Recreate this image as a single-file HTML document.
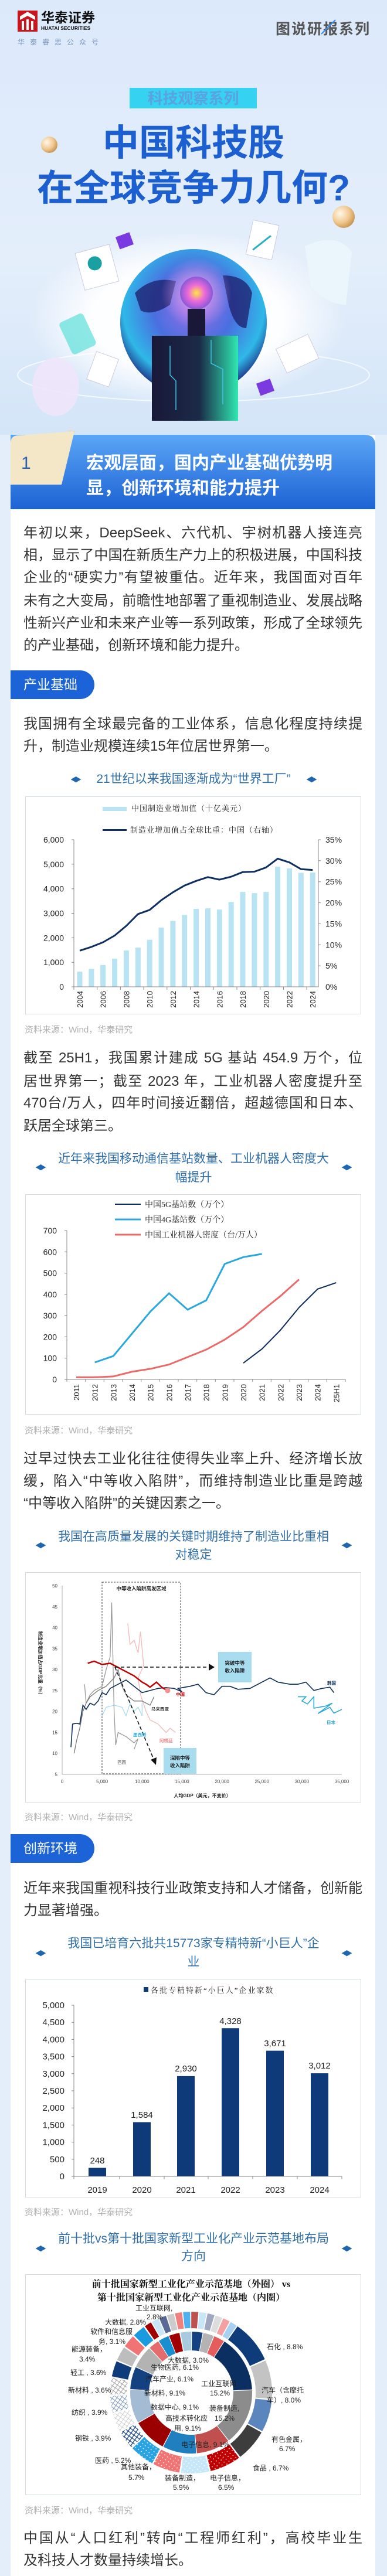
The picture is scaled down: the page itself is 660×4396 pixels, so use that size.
<!DOCTYPE html>
<html><head><meta charset="utf-8">
<style>
*{margin:0;padding:0;box-sizing:border-box}
body{width:660px;height:4396px;position:relative;overflow:hidden;background:#e4eefb;font-family:"Liberation Sans","Noto Sans CJK SC",sans-serif}
.abs{position:absolute}
.t{position:absolute;left:40px;width:578px;font-size:24px;line-height:28px;color:#333;white-space:nowrap}
.j{text-align:justify;text-align-last:justify}
.ct{position:absolute;left:0;width:660px;text-align:center;font-size:21px;line-height:26px;color:#2f6ea8;white-space:nowrap}
.src{position:absolute;left:42px;font-size:15px;line-height:18px;color:#b0b0b0}
.box{position:absolute;left:43px;width:573px;background:#fff;border:1.5px solid #d3dbe5}
.pill{position:absolute;left:18px;width:143px;height:49px;background:#1b63d6;border-radius:0 25px 25px 0;color:#fff;font-size:23px;line-height:49px;padding-left:22px}
.dia{position:absolute;font-size:11px;color:#1f66b0;letter-spacing:-3px}
</style></head><body>
<!-- top background -->
<div class="abs" style="left:0;top:0;width:660px;height:742px;background:linear-gradient(#dce9fb,#e4eefb 60%,#d3e5f8)"></div>
<!-- card -->
<div class="abs" style="left:18px;top:742px;width:622px;height:3654px;background:#fff"></div>

<svg class="abs" style="left:0;top:0" width="660" height="4396" viewBox="0 0 660 4396" font-family="Liberation Sans, Noto Sans CJK SC, sans-serif">
<defs>
<radialGradient id="glob" cx="0.5" cy="0.4" r="0.6"><stop offset="0" stop-color="#9a6ee8"/><stop offset="0.45" stop-color="#4a6fe0"/><stop offset="0.8" stop-color="#2fb8e8"/><stop offset="1" stop-color="#1c2a80"/></radialGradient>
<radialGradient id="cloud" cx="0.5" cy="0.5" r="0.5"><stop offset="0.6" stop-color="#ffffff" stop-opacity="0.95"/><stop offset="1" stop-color="#ffffff" stop-opacity="0"/></radialGradient>
<radialGradient id="head" cx="0.5" cy="0.5" r="0.5"><stop offset="0" stop-color="#ffe640"/><stop offset="0.5" stop-color="#ef6ad8"/><stop offset="1" stop-color="#8a58d8"/></radialGradient>
<radialGradient id="halo" cx="0.5" cy="0.5" r="0.5"><stop offset="0" stop-color="#f6a8ee" stop-opacity="0.9"/><stop offset="1" stop-color="#f6a8ee" stop-opacity="0"/></radialGradient>
<linearGradient id="body" x1="0" x2="1"><stop offset="0" stop-color="#1a1838"/><stop offset="0.55" stop-color="#1b2a48"/><stop offset="1" stop-color="#2fe8b0"/></linearGradient>
<radialGradient id="gold" cx="0.35" cy="0.35" r="0.7"><stop offset="0" stop-color="#fff8e8"/><stop offset="0.6" stop-color="#f0c890"/><stop offset="1" stop-color="#c89450"/></radialGradient>
<linearGradient id="hdr" x1="0" y1="0" x2="0" y2="1"><stop offset="0" stop-color="#5aa6f6"/><stop offset="1" stop-color="#1d62d4"/></linearGradient>
<pattern id="dR" width="6" height="6" patternUnits="userSpaceOnUse"><rect width="6" height="6" fill="#c00000"/><circle cx="3" cy="3" r="0.9" fill="#fff"/></pattern>
<pattern id="dL" width="6" height="6" patternUnits="userSpaceOnUse"><rect width="6" height="6" fill="#c6e7f8"/><circle cx="3" cy="3" r="0.9" fill="#fff"/></pattern>
<pattern id="dP" width="6" height="6" patternUnits="userSpaceOnUse"><rect width="6" height="6" fill="#f07474"/><circle cx="3" cy="3" r="0.9" fill="#fff"/></pattern>
<pattern id="dB" width="6" height="6" patternUnits="userSpaceOnUse"><rect width="6" height="6" fill="#2aa3e3"/><circle cx="3" cy="3" r="0.9" fill="#fff"/></pattern>
<pattern id="gN" width="6" height="6" patternUnits="userSpaceOnUse"><rect width="6" height="6" fill="#fff"/><path d="M0 0H6M0 0V6" stroke="#14417f" stroke-width="2.4"/></pattern>
<pattern id="gG" width="6" height="6" patternUnits="userSpaceOnUse"><rect width="6" height="6" fill="#fff"/><path d="M0 0H6M0 0V6" stroke="#8a8a8a" stroke-width="1.6"/></pattern>
<pattern id="gB" width="6" height="6" patternUnits="userSpaceOnUse"><rect width="6" height="6" fill="#fff"/><path d="M0 0H6M0 0V6" stroke="#5a7fb0" stroke-width="1.6"/></pattern>
<pattern id="gL" width="6" height="6" patternUnits="userSpaceOnUse"><rect width="6" height="6" fill="#fff"/><path d="M0 0H6M0 0V6" stroke="#c0c0c0" stroke-width="1.4"/></pattern>
</defs>

<!-- ===== header ===== -->
<rect x="30" y="18" width="34" height="36" fill="#c8161e"/>
<path d="M34 28 L47 20 L60 28 L60 34 L47 27 L34 34Z" fill="#fff"/>
<rect x="37" y="36" width="4" height="15" fill="#fff"/><rect x="45" y="33" width="4" height="18" fill="#fff"/><rect x="53" y="36" width="4" height="15" fill="#fff"/>
<text x="70" y="38" font-size="23" font-weight="bold" fill="#111">华泰证券</text>
<text x="70" y="51" font-size="8.5" font-weight="bold" fill="#111">HUATAI SECURITIES</text>
<text x="30" y="76" font-size="12" fill="#7a93b8" letter-spacing="9">华泰睿思公众号</text>
<text x="470" y="58" font-size="25" font-weight="bold" fill="#555" letter-spacing="2">图说研报系列</text>
<path d="M548 58 L572 34" stroke="#3c8ee8" stroke-width="2"/>
<rect x="221" y="150" width="217" height="35" fill="#35d2f2"/>
<text x="329.5" y="177" font-size="26" font-weight="bold" fill="#5aa2e0" text-anchor="middle">科技观察系列</text>
<text x="330" y="265" font-size="62" font-weight="bold" fill="#1b5fd0" text-anchor="middle">中国科技股</text>
<text x="330" y="342" font-size="62" font-weight="bold" fill="#1b5fd0" text-anchor="middle">在全球竞争力几何?</text>
<circle cx="84" cy="247" r="14" fill="url(#gold)"/>
<circle cx="586" cy="370" r="19" fill="url(#gold)"/>

<!-- illustration -->
<ellipse cx="330" cy="640" rx="300" ry="45" fill="none" stroke="#ffffff" stroke-opacity="0.7" stroke-width="2"/>
<ellipse cx="320" cy="545" rx="270" ry="150" fill="url(#cloud)"/>
<ellipse cx="95" cy="660" rx="40" ry="50" fill="#efe6fa" opacity="0.9"/>
<path d="M520 420 Q575 395 600 430 L590 520 Q560 520 530 490Z" fill="#eaf6fb"/>
<circle cx="330" cy="550" r="125" fill="url(#glob)"/>
<path d="M230 500 Q260 470 300 480 L290 520 Q260 540 240 530Z M380 470 Q420 470 430 500 L420 560 Q400 560 390 520Z M300 580 Q330 600 340 640 L310 650 Q290 620 295 590Z" fill="#1c1d6a" opacity="0.75"/>
<circle cx="335" cy="500" r="60" fill="url(#halo)"/>
<circle cx="335" cy="500" r="28" fill="url(#head)"/>
<rect x="320" y="527" width="30" height="46" fill="#1a1838"/>
<path d="M259 573 L406 573 L406 718 L259 718Z" fill="url(#body)"/>
<path d="M290 590 L290 640 L300 650 L300 700 M360 580 L360 620 L380 630 L380 690" stroke="#35c8e8" stroke-width="1.5" fill="none"/>
<g transform="rotate(-15 160 455)"><rect x="135" y="425" width="60" height="65" fill="#fff" stroke="#ccd" /><circle cx="163" cy="450" r="12" fill="#1aa0a0"/></g>
<g transform="rotate(12 450 410)"><rect x="425" y="380" width="45" height="60" fill="#fff" stroke="#ccd"/><path d="M435 430 L460 400" stroke="#2ab0c0" stroke-width="3"/></g>
<rect x="200" y="400" width="25" height="22" fill="#7a3ae0" transform="rotate(-20 212 411)"/>
<rect x="440" y="650" width="25" height="22" fill="#7a3ae0" transform="rotate(-20 452 661)"/>
<g transform="rotate(-25 510 605)"><rect x="478" y="580" width="60" height="45" fill="#fff" stroke="#ccd"/></g>
<g transform="rotate(20 175 630)"><rect x="155" y="605" width="40" height="50" fill="#fff" stroke="#ccd"/></g>
<rect x="110" y="540" width="45" height="60" rx="6" fill="#5ce0d8" opacity="0.7" transform="rotate(-25 132 570)"/>

<!-- ===== section 1 header ===== -->
<path d="M18 742 L622 742 Q640 742 640 760 L640 869 L18 869Z" fill="url(#hdr)"/>
<path d="M18 756 Q18 744 30 743 L127 736 L105 827 L18 827Z" fill="#f3e7c8"/>
<path d="M114 736 Q128 732 130 745 L127 736Z" fill="#e3c893"/>
<text x="36" y="800" font-size="30" fill="#2c62b4">1</text>
<text x="147" y="800" font-size="30" font-weight="bold" fill="#fff">宏观层面，国内产业基础优势明</text>
<text x="147" y="843" font-size="30" font-weight="bold" fill="#fff">显，创新环境和能力提升</text>

<!-- ===== chart 1 ===== -->
<g fill="#b8e3f3">
<rect x="131.5" y="1658.1" width="9" height="25.9"/><rect x="151.4" y="1653.5" width="9" height="30.5"/><rect x="171.2" y="1646.8" width="9" height="37.2"/><rect x="191.1" y="1635.9" width="9" height="48.1"/><rect x="210.9" y="1622.1" width="9" height="61.9"/><rect x="230.8" y="1617.1" width="9" height="66.9"/><rect x="250.7" y="1603.7" width="9" height="80.3"/><rect x="270.5" y="1582.8" width="9" height="101.2"/><rect x="290.4" y="1571.5" width="9" height="112.5"/><rect x="310.2" y="1561.4" width="9" height="122.6"/><rect x="330.1" y="1551" width="9" height="133"/><rect x="350" y="1550.1" width="9" height="133.9"/><rect x="369.8" y="1552.2" width="9" height="131.8"/><rect x="389.7" y="1539.3" width="9" height="144.7"/><rect x="409.5" y="1522.1" width="9" height="161.9"/><rect x="429.4" y="1524.2" width="9" height="159.8"/><rect x="449.3" y="1522.1" width="9" height="161.9"/><rect x="469.1" y="1479" width="9" height="205"/><rect x="489" y="1482" width="9" height="202"/><rect x="508.8" y="1489.5" width="9" height="194.5"/><rect x="528.7" y="1489.1" width="9" height="194.9"/>
</g>
<polyline fill="none" stroke="#0e2f60" stroke-width="3" stroke-linejoin="round" points="136,1622.3 155.9,1615.9 175.7,1608 195.6,1596.5 215.4,1580 235.3,1559.9 255.2,1552.8 275,1536.3 294.9,1522.7 314.7,1511.2 334.6,1503.3 354.5,1496.8 374.3,1501.1 394.2,1496.1 414,1488.2 433.9,1487.5 453.8,1480.3 473.6,1465.3 493.5,1471.7 513.3,1483.2 533.2,1484.6"/>
<g stroke="#888" stroke-width="1" fill="none">
<path d="M126 1433 V1684 H543 V1433"/>
<path d="M122 1433H126M122 1474.8H126M122 1516.7H126M122 1558.5H126M122 1600.3H126M122 1642.2H126M122 1684H126"/>
<path d="M543 1433H547M543 1468.8H547M543 1504.7H547M543 1540.6H547M543 1576.4H547M543 1612.3H547M543 1648.1H547"/>
<path d="M126 1684V1689M165.7 1684V1689M205.4 1684V1689M245.1 1684V1689M284.8 1684V1689M324.5 1684V1689M364.3 1684V1689M404 1684V1689M443.7 1684V1689M483.4 1684V1689M523.1 1684V1689"/>
</g>
<g font-size="14" fill="#222" text-anchor="end">
<text x="109" y="1438">6,000</text><text x="109" y="1479.8">5,000</text><text x="109" y="1521.7">4,000</text><text x="109" y="1563.5">3,000</text><text x="109" y="1605.3">2,000</text><text x="109" y="1647.2">1,000</text><text x="109" y="1689">0</text>
</g>
<g font-size="14" fill="#222">
<text x="555" y="1438">35%</text><text x="555" y="1473.8">30%</text><text x="555" y="1509.7">25%</text><text x="555" y="1545.6">20%</text><text x="555" y="1581.4">15%</text><text x="555" y="1617.3">10%</text><text x="555" y="1653.1">5%</text><text x="555" y="1689">0%</text>
</g>
<g font-size="13" fill="#222" text-anchor="end">
<text transform="translate(141,1691) rotate(-90)">2004</text><text transform="translate(180.7,1691) rotate(-90)">2006</text><text transform="translate(220.4,1691) rotate(-90)">2008</text><text transform="translate(260.2,1691) rotate(-90)">2010</text><text transform="translate(299.9,1691) rotate(-90)">2012</text><text transform="translate(339.6,1691) rotate(-90)">2014</text><text transform="translate(379.3,1691) rotate(-90)">2016</text><text transform="translate(419,1691) rotate(-90)">2018</text><text transform="translate(458.8,1691) rotate(-90)">2020</text><text transform="translate(498.5,1691) rotate(-90)">2022</text><text transform="translate(538.2,1691) rotate(-90)">2024</text>
</g>

<!-- ===== chart 2 ===== -->
<g stroke="#888" stroke-width="1" fill="none">
<path d="M114 2100 V2354 H589"/>
<path d="M110 2100H114M110 2136.3H114M110 2172.6H114M110 2208.8H114M110 2245.1H114M110 2281.4H114M110 2317.7H114M110 2354H114"/>
<path d="M114 2354v4M145.7 2354v4M177.3 2354v4M209 2354v4M240.7 2354v4M272.3 2354v4M304 2354v4M335.7 2354v4M367.3 2354v4M399 2354v4M430.7 2354v4M462.3 2354v4M494 2354v4M525.7 2354v4M557.3 2354v4M589 2354v4"/>
</g>
<polyline fill="none" stroke="#2aa8dc" stroke-width="3" points="161.7,2325 193.3,2314.1 225,2276 256.7,2237.9 288.3,2207 320,2235 351.7,2219 383.3,2156.9 415,2145.3 446.7,2139.9"/>
<polyline fill="none" stroke="#ea6a6a" stroke-width="3" points="130,2350.4 161.7,2350.4 193.3,2348.9 225,2340.9 256.7,2335.9 288.3,2328.6 320,2315.9 351.7,2303.2 383.3,2286.1 415,2264.7 446.7,2237.1 478.3,2211.7 510,2183.4"/>
<polyline fill="none" stroke="#0d2b5b" stroke-width="2" points="415,2326.1 446.7,2302.1 478.3,2269.8 510,2231.3 541.7,2199.8 573.3,2188.9"/>
<path d="M196 2055H240" stroke="#0d2b5b" stroke-width="2"/>
<path d="M196 2081H240" stroke="#2aa8dc" stroke-width="3"/>
<path d="M196 2107H240" stroke="#ea6a6a" stroke-width="3"/>
<g font-size="14" fill="#222" font-family="Liberation Serif, Noto Serif CJK SC, serif">
<text x="247" y="2060">中国5G基站数（万个）</text><text x="247" y="2086">中国4G基站数（万个）</text><text x="247" y="2112">中国工业机器人密度（台/万人）</text>
</g>
<g font-size="14" fill="#222" text-anchor="end">
<text x="97" y="2105">700</text><text x="97" y="2141.3">600</text><text x="97" y="2177.6">500</text><text x="97" y="2213.8">400</text><text x="97" y="2250.1">300</text><text x="97" y="2286.4">200</text><text x="97" y="2322.7">100</text><text x="97" y="2359">0</text>
</g>
<g font-size="13" fill="#222" text-anchor="end">
<text transform="translate(135,2362) rotate(-90)">2011</text><text transform="translate(166.7,2362) rotate(-90)">2012</text><text transform="translate(198.3,2362) rotate(-90)">2013</text><text transform="translate(230,2362) rotate(-90)">2014</text><text transform="translate(261.7,2362) rotate(-90)">2015</text><text transform="translate(293.3,2362) rotate(-90)">2016</text><text transform="translate(325,2362) rotate(-90)">2017</text><text transform="translate(356.7,2362) rotate(-90)">2018</text><text transform="translate(388.3,2362) rotate(-90)">2019</text><text transform="translate(420,2362) rotate(-90)">2020</text><text transform="translate(451.7,2362) rotate(-90)">2021</text><text transform="translate(483.3,2362) rotate(-90)">2022</text><text transform="translate(515,2362) rotate(-90)">2023</text><text transform="translate(546.7,2362) rotate(-90)">2024</text><text transform="translate(578.3,2362) rotate(-90)">25H1</text>
</g>

<!-- ===== chart 3 scatter ===== -->
<g stroke="#999" stroke-width="0.8" fill="none"><path d="M106 2706 V3028 H583"/></g>
<g font-size="8" fill="#444" text-anchor="end">
<text x="98" y="2709">50</text><text x="98" y="2744.8">45</text><text x="98" y="2780.5">40</text><text x="98" y="2816.3">35</text><text x="98" y="2852.1">30</text><text x="98" y="2887.9">25</text><text x="98" y="2923.7">20</text><text x="98" y="2959.4">15</text><text x="98" y="2995.2">10</text><text x="98" y="3031">5</text>
</g>
<g font-size="8" fill="#444" text-anchor="middle">
<text x="106" y="3043">0</text><text x="174.1" y="3043">5,000</text><text x="242.3" y="3043">10,000</text><text x="310.4" y="3043">15,000</text><text x="378.6" y="3043">20,000</text><text x="446.7" y="3043">25,000</text><text x="514.8" y="3043">30,000</text><text x="583" y="3043">35,000</text>
</g>
<text x="345" y="3067" font-size="8" fill="#222" text-anchor="middle" font-weight="bold">人均GDP（美元，不变价）</text>
<text transform="translate(66,2840) rotate(90)" font-size="8" fill="#222" text-anchor="middle" font-weight="bold">制造业增加值占GDP比重（%）</text>
<rect x="174" y="2700" width="134" height="327" fill="none" stroke="#444" stroke-width="1" stroke-dasharray="3,2"/>
<text x="241" y="2714" font-size="8.5" fill="#222" text-anchor="middle" font-weight="bold">中等收入陷阱高发区域</text>
<polyline fill="none" stroke="#f4b8b8" stroke-width="1.3" points="217.8,2770.4 221.8,2806.2 228.7,2799 235.5,2820.5 239.6,2784.7 242.3,2813.3 245,2842 235.5,2863.4 239.6,2892.1 249.1,2920.7 255.9,2935 269.5,2942.1 283.2,2956.5 290,2949.3 299.5,2956.5"/>
<polyline fill="none" stroke="#a8dcef" stroke-width="1.3" points="174.1,2927.8 181,2913.5 194.6,2910 208.2,2913.5 215,2927.8 221.8,2906.4 228.7,2920.7 235.5,2913.5 242.3,2927.8 242.3,2906.4"/>
<polyline fill="none" stroke="#999" stroke-width="1.3" points="144.2,2874.2 146.9,2906.4 153.7,2892.1 160.5,2884.9 174.1,2877.7 181,2849.1 187.8,2827.7 190.5,2734.6 194.6,2920.7 197.3,2977.9 201.4,2956.5 215,2963.6 228.7,2974.3 235.5,2967.2 228.7,2985.1"/>
<polyline fill="none" stroke="#777" stroke-width="1.3" points="126.4,2992.2 130.5,2970.8 136,2949.3 141.4,2920.7 146.9,2906.4 153.7,2895.6 167.3,2884.9 181,2877.7 187.8,2870.6 194.6,2863.4 201.4,2849.1 208.2,2877.7 215,2892.1 228.7,2902.8 242.3,2902.8 255.9,2910 262.7,2895.6"/>
<polyline fill="none" stroke="#0e2c55" stroke-width="1.6" points="121,2981.5 123.7,2942.1 130.5,2940.7 136,2942.1 141.4,2910 146.9,2917.1 153.7,2906.4 160.5,2910 167.3,2902.8 174.1,2888.5 181,2892.1 187.8,2881.3 201.4,2874.2 215,2867 228.7,2877.7 242.3,2888.5 255.9,2884.9 269.5,2881.3 283.2,2879.9 296.8,2881.3 310.4,2887 303.6,2881.3 324.1,2877.7 337.7,2874.2 351.3,2888.5 365,2892.1 378.6,2877.7 392.2,2877.7 405.8,2882.8 426.3,2881.3 460.4,2863.4 474,2870.6 494.4,2874.2 508.1,2874.2 521.7,2870.6 535.3,2884.9 549,2881.3 562.6,2879.2 569.4,2888.5"/>
<polyline fill="none" stroke="#2aa8d8" stroke-width="1.6" points="508.1,2895.6 521.7,2895.6 514.9,2902.8 524.4,2907.8 535.3,2895.6 535.3,2915 555.8,2911.4 566.7,2906.4 542.1,2924.3 562.6,2913.5 569.4,2923.5 583,2917.1"/>
<polyline fill="none" stroke="#c00000" stroke-width="2.5" points="149.6,2838.4 160.5,2834.8 174.1,2840.5 187.8,2838.4 194.6,2842 201.4,2845.5 215,2852.7 228.7,2859.9 242.3,2870.6 249.1,2874.2 255.9,2879.2 266.8,2870.6 276.4,2879.9 285.9,2884.9"/>
<circle cx="285.9" cy="2884.9" r="4.5" fill="#f09090"/>
<path d="M196 2845 H360" stroke="#111" stroke-width="1.6" stroke-dasharray="6,4"/><path d="M356 2839 L366 2845 L356 2851Z" fill="#111"/>
<path d="M196 2845 L262 3002" stroke="#111" stroke-width="1.6" stroke-dasharray="6,4"/><path d="M257 3003 L266 3012 L267 2999Z" fill="#111"/>
<rect x="372" y="2819" width="57" height="52" fill="#a8dcef"/>
<text x="400.5" y="2841" font-size="8.5" fill="#222" text-anchor="middle" font-weight="bold">突破中等</text>
<text x="400.5" y="2854" font-size="8.5" fill="#222" text-anchor="middle" font-weight="bold">收入陷阱</text>
<rect x="279" y="2983" width="56" height="44" fill="#a8dcef"/>
<text x="307" y="3003" font-size="8.5" fill="#222" text-anchor="middle" font-weight="bold">深陷中等</text>
<text x="307" y="3016" font-size="8.5" fill="#222" text-anchor="middle" font-weight="bold">收入陷阱</text>
<g font-size="7.5" font-weight="bold">
<text x="558" y="2875" fill="#0e2c55">韩国</text><text x="300" y="2894" fill="#c00000">中国</text><text x="258" y="2919" fill="#333">马来西亚</text><text x="227" y="2963" fill="#2aa8d8">墨西哥</text><text x="272" y="2973" fill="#e88">阿根廷</text><text x="200" y="3010" fill="#888">巴西</text><text x="557" y="2942" fill="#2aa8d8">日本</text>
</g>

<!-- ===== chart 4 bars ===== -->
<g fill="#0f3a7a">
<rect x="151" y="3699.5" width="30" height="14.5"/><rect x="227" y="3621.5" width="30" height="92.5"/><rect x="302" y="3542.9" width="30" height="171.1"/><rect x="378" y="3461.2" width="30" height="252.8"/><rect x="454" y="3499.6" width="30" height="214.4"/><rect x="530" y="3538.1" width="30" height="175.9"/>
</g>
<g stroke="#888" stroke-width="1" fill="none">
<path d="M126 3422 V3714 H583"/>
<path d="M122 3422H126M122 3451.2H126M122 3480.4H126M122 3509.6H126M122 3538.8H126M122 3568H126M122 3597.2H126M122 3626.4H126M122 3655.6H126M122 3684.8H126M122 3714H126"/>
<path d="M126 3714v5M204 3714v5M280 3714v5M355 3714v5M431 3714v5M507 3714v5M583 3714v5"/>
</g>
<g font-size="15" fill="#222" text-anchor="end">
<text x="110" y="3427">5,000</text><text x="110" y="3456.2">4,500</text><text x="110" y="3485.4">4,000</text><text x="110" y="3514.6">3,500</text><text x="110" y="3543.8">3,000</text><text x="110" y="3573">2,500</text><text x="110" y="3602.2">2,000</text><text x="110" y="3631.4">1,500</text><text x="110" y="3660.6">1,000</text><text x="110" y="3689.8">500</text><text x="110" y="3719">0</text>
</g>
<g font-size="15" fill="#222" text-anchor="middle">
<text x="166" y="3692">248</text><text x="242" y="3614">1,584</text><text x="317" y="3535">2,930</text><text x="393" y="3454">4,328</text><text x="469" y="3492">3,671</text><text x="545" y="3530">3,012</text>
<text x="166" y="3742">2019</text><text x="242" y="3742">2020</text><text x="317" y="3742">2021</text><text x="393" y="3742">2022</text><text x="469" y="3742">2023</text><text x="545" y="3742">2024</text>
</g>
<rect x="245" y="3391" width="8" height="8" fill="#0f3a7a"/>
<text x="257" y="3401" font-size="13" fill="#222" font-family="Liberation Serif, Noto Serif CJK SC, serif" letter-spacing="2">各批专精特新“小巨人”企业家数</text>

<!-- ===== chart 5 donut ===== -->
<text x="326" y="3903" font-size="16" font-weight="bold" fill="#111" text-anchor="middle" font-family="Liberation Serif, Noto Serif CJK SC, serif">前十批国家新型工业化产业示范基地（外圈） vs</text>
<text x="326" y="3926" font-size="16" font-weight="bold" fill="#111" text-anchor="middle" font-family="Liberation Serif, Noto Serif CJK SC, serif">第十批国家新型工业化产业示范基地（内圈）</text>
<g transform="rotate(-55 326 4083)" fill="none" stroke-width="28">
<circle cx="326" cy="4083" r="124" pathLength="100" stroke="#0e3c7a" stroke-dasharray="8.5 100" stroke-dashoffset="0"/>
<circle cx="326" cy="4083" r="124" pathLength="100" stroke="#c3c3c3" stroke-dasharray="7.7 100" stroke-dashoffset="-8.8"/>
<circle cx="326" cy="4083" r="124" pathLength="100" stroke="#5b86bd" stroke-dasharray="6.4 100" stroke-dashoffset="-16.8"/>
<circle cx="326" cy="4083" r="124" pathLength="100" stroke="#3d3d3d" stroke-dasharray="6.4 100" stroke-dashoffset="-23.5"/>
<circle cx="326" cy="4083" r="124" pathLength="100" stroke="url(#dR)" stroke-dasharray="6.2 100" stroke-dashoffset="-30.2"/>
<circle cx="326" cy="4083" r="124" pathLength="100" stroke="url(#dL)" stroke-dasharray="5.6 100" stroke-dashoffset="-36.7"/>
<circle cx="326" cy="4083" r="124" pathLength="100" stroke="url(#dP)" stroke-dasharray="5.4 100" stroke-dashoffset="-42.6"/>
<circle cx="326" cy="4083" r="124" pathLength="100" stroke="url(#dB)" stroke-dasharray="4.9 100" stroke-dashoffset="-48.3"/>
<circle cx="326" cy="4083" r="124" pathLength="100" stroke="url(#gN)" stroke-dasharray="3.6 100" stroke-dashoffset="-53.5"/>
<circle cx="326" cy="4083" r="124" pathLength="100" stroke="url(#gL)" stroke-dasharray="3.6 100" stroke-dashoffset="-57.4"/>
<circle cx="326" cy="4083" r="124" pathLength="100" stroke="url(#gB)" stroke-dasharray="3.3 100" stroke-dashoffset="-61.3"/>
<circle cx="326" cy="4083" r="124" pathLength="100" stroke="url(#gG)" stroke-dasharray="3.3 100" stroke-dashoffset="-64.9"/>
<circle cx="326" cy="4083" r="124" pathLength="100" stroke="#0e3c7a" stroke-dasharray="3.1 100" stroke-dashoffset="-68.5"/>
<circle cx="326" cy="4083" r="124" pathLength="100" stroke="#bdbdbd" stroke-dasharray="2.8 100" stroke-dashoffset="-71.9"/>
<circle cx="326" cy="4083" r="124" pathLength="100" stroke="#f07474" stroke-dasharray="2.5 100" stroke-dashoffset="-75"/>
<circle cx="326" cy="4083" r="124" pathLength="100" stroke="#1a9be0" stroke-dasharray="2.5 100" stroke-dashoffset="-77.8"/>
<circle cx="326" cy="4083" r="124" pathLength="100" stroke="#a00000" stroke-dasharray="1.4 100" stroke-dashoffset="-80.6"/>
<circle cx="326" cy="4083" r="124" pathLength="100" stroke="#c8e6f5" stroke-dasharray="1.4 100" stroke-dashoffset="-82.22"/>
<circle cx="326" cy="4083" r="124" pathLength="100" stroke="#5a6a96" stroke-dasharray="1.4 100" stroke-dashoffset="-83.83"/>
<circle cx="326" cy="4083" r="124" pathLength="100" stroke="#cccccc" stroke-dasharray="1.4 100" stroke-dashoffset="-85.45"/>
<circle cx="326" cy="4083" r="124" pathLength="100" stroke="#f08080" stroke-dasharray="1.4 100" stroke-dashoffset="-87.07"/>
<circle cx="326" cy="4083" r="124" pathLength="100" stroke="#50b0f0" stroke-dasharray="1.4 100" stroke-dashoffset="-88.68"/>
<circle cx="326" cy="4083" r="124" pathLength="100" stroke="#c05050" stroke-dasharray="1.4 100" stroke-dashoffset="-90.3"/>
<circle cx="326" cy="4083" r="124" pathLength="100" stroke="#c8e6f5" stroke-dasharray="1.4 100" stroke-dashoffset="-91.92"/>
<circle cx="326" cy="4083" r="124" pathLength="100" stroke="#a0a8c0" stroke-dasharray="1.4 100" stroke-dashoffset="-93.53"/>
<circle cx="326" cy="4083" r="124" pathLength="100" stroke="#dddddd" stroke-dasharray="1.4 100" stroke-dashoffset="-95.15"/>
<circle cx="326" cy="4083" r="124" pathLength="100" stroke="#f5a0a0" stroke-dasharray="1.4 100" stroke-dashoffset="-96.77"/>
<circle cx="326" cy="4083" r="124" pathLength="100" stroke="#a8d0f0" stroke-dasharray="1.4 100" stroke-dashoffset="-98.38"/>
</g>
<g transform="rotate(-100 326 4083)" fill="none" stroke-width="32">
<circle cx="326" cy="4083" r="88" pathLength="100" stroke="#a9c9df" stroke-dasharray="2.8 100" stroke-dashoffset="0"/>
<circle cx="326" cy="4083" r="88" pathLength="100" stroke="#14417f" stroke-dasharray="2.8 100" stroke-dashoffset="-3"/>
<circle cx="326" cy="4083" r="88" pathLength="100" stroke="#b3b3b3" stroke-dasharray="2.8 100" stroke-dashoffset="-6"/>
<circle cx="326" cy="4083" r="88" pathLength="100" stroke="#e45c5c" stroke-dasharray="2.8 100" stroke-dashoffset="-9"/>
<circle cx="326" cy="4083" r="88" pathLength="100" stroke="#0c2f62" stroke-dasharray="15 100" stroke-dashoffset="-12"/>
<circle cx="326" cy="4083" r="88" pathLength="100" stroke="#8c8c8c" stroke-dasharray="15 100" stroke-dashoffset="-27.2"/>
<circle cx="326" cy="4083" r="88" pathLength="100" stroke="#c0504d" stroke-dasharray="8.9 100" stroke-dashoffset="-42.4"/>
<circle cx="326" cy="4083" r="88" pathLength="100" stroke="#1f7fbf" stroke-dasharray="8.9 100" stroke-dashoffset="-51.5"/>
<circle cx="326" cy="4083" r="88" pathLength="100" stroke="#9b0000" stroke-dasharray="8.9 100" stroke-dashoffset="-60.6"/>
<circle cx="326" cy="4083" r="88" pathLength="100" stroke="#a4bcd3" stroke-dasharray="8.9 100" stroke-dashoffset="-69.7"/>
<circle cx="326" cy="4083" r="88" pathLength="100" stroke="#14417f" stroke-dasharray="5.9 100" stroke-dashoffset="-78.8"/>
<circle cx="326" cy="4083" r="88" pathLength="100" stroke="#b3b3b3" stroke-dasharray="5.9 100" stroke-dashoffset="-84.9"/>
<circle cx="326" cy="4083" r="88" pathLength="100" stroke="#e46c6c" stroke-dasharray="2.8 100" stroke-dashoffset="-91"/>
<circle cx="326" cy="4083" r="88" pathLength="100" stroke="#1a8fd0" stroke-dasharray="2.8 100" stroke-dashoffset="-94"/>
<circle cx="326" cy="4083" r="88" pathLength="100" stroke="#a00000" stroke-dasharray="2.8 100" stroke-dashoffset="-97"/>
</g>
<g font-size="12" fill="#222">
<text x="231" y="3943">工业互联网,</text><text x="250" y="3958">2.8%</text>
<text x="179" y="3967">大数据, 2.8%</text>
<text x="154" y="3983">软件和信息服</text><text x="168" y="4000">务, 3.1%</text>
<text x="122" y="4013">能源装备，</text><text x="135" y="4030">3.4%</text>
<text x="120" y="4053">轻工 , 3.6%</text>
<text x="116" y="4083">新材料 , 3.6%</text>
<text x="122" y="4121">纺织 , 3.9%</text>
<text x="128" y="4165">钢铁 , 3.9%</text>
<text x="162" y="4203">医药 , 5.2%</text>
<text x="206" y="4214">其他装备，</text><text x="219" y="4232">5.7%</text>
<text x="281" y="4233">装备制造，</text><text x="295" y="4249">5.9%</text>
<text x="358" y="4233">电子信息，</text><text x="372" y="4249">6.5%</text>
<text x="431" y="4216">食品 , 6.7%</text>
<text x="463" y="4167">有色金属，</text><text x="476" y="4183">6.7%</text>
<text x="446" y="4083">汽车（含摩托</text><text x="455" y="4100">车）, 8.0%</text>
<text x="455" y="4009">石化 , 8.8%</text>
<text x="286" y="4032">大数据, 3.0%</text>
<text x="257" y="4044">生物医药, 6.1%</text>
<text x="248" y="4064">汽车产业, 6.1%</text>
<text x="343" y="4072">工业互联网</text><text x="358" y="4088">15.2%</text>
<text x="246" y="4088">新材料, 9.1%</text>
<text x="257" y="4112">数据中心, 9.1%</text>
<text x="357" y="4114">装备制造,</text><text x="366" y="4131">15.2%</text>
<text x="282" y="4131">高技术转化应</text><text x="297" y="4148">用, 9.1%</text>
<text x="309" y="4176">电子信息, 9.1%</text>
</g>
</svg>

<!-- chart boxes (behind drawn via z-order: place before? use outline-only) -->
<div class="abs" style="left:43px;top:1359px;width:573px;height:372px;border:1.5px solid #d3dbe5"></div>
<div class="abs" style="left:43px;top:2038px;width:573px;height:376px;border:1.5px solid #d3dbe5"></div>
<div class="abs" style="left:43px;top:2683px;width:573px;height:393px;border:1.5px solid #d3dbe5"></div>
<div class="abs" style="left:43px;top:3377px;width:573px;height:373px;border:1.5px solid #d3dbe5"></div>
<div class="abs" style="left:43px;top:3881px;width:573px;height:377px;border:1.5px solid #d3dbe5"></div>

<!-- chart1 legend -->
<div class="abs" style="left:175px;top:1377px;width:41px;height:7px;background:#b8e3f3"></div>
<div class="abs" style="left:175px;top:1415px;width:41px;height:3px;background:#0e2f60"></div>
<div class="abs" style="left:224px;top:1371px;font-size:13px;line-height:18px;color:#222;font-family:'Liberation Serif','Noto Serif CJK SC',serif;letter-spacing:1px">中国制造业增加值（十亿美元）</div>
<div class="abs" style="left:222px;top:1408px;font-size:13px;line-height:18px;color:#222;font-family:'Liberation Serif','Noto Serif CJK SC',serif;letter-spacing:1px">制造业增加值占全球比重：中国（右轴）</div>

<!-- paragraphs -->
<div class="t j" style="top:896px">年初以来，DeepSeek、六代机、宇树机器人接连亮</div>
<div class="t j" style="top:934px">相，显示了中国在新质生产力上的积极进展，中国科技</div>
<div class="t j" style="top:972px">企业的“硬实力”有望被重估。近年来，我国面对百年</div>
<div class="t j" style="top:1012px">未有之大变局，前瞻性地部署了重视制造业、发展战略</div>
<div class="t j" style="top:1050px">性新兴产业和未来产业等一系列政策，形成了全球领先</div>
<div class="t" style="top:1088px">的产业基础，创新环境和能力提升。</div>

<div class="pill" style="top:1144px">产业基础</div>
<div class="t j" style="top:1222px">我国拥有全球最完备的工业体系，信息化程度持续提</div>
<div class="t" style="top:1260px">升，制造业规模连续15年位居世界第一。</div>

<div class="dia" style="left:120px;top:1322px">◀▶</div><div class="dia" style="left:522px;top:1322px">◀▶</div>
<div class="ct" style="top:1317px">21世纪以来我国逐渐成为“世界工厂”</div>
<div class="src" style="top:1749px">资料来源：Wind，华泰研究</div>

<div class="t j" style="top:1792px">截至 25H1，我国累计建成 5G 基站 454.9 万个，位</div>
<div class="t j" style="top:1832px">居世界第一；截至 2023 年，工业机器人密度提升至</div>
<div class="t j" style="top:1869px">470台/万人，四年时间接近翻倍，超越德国和日本、</div>
<div class="t" style="top:1908px">跃居全球第三。</div>

<div class="dia" style="left:60px;top:1984px">◀▶</div><div class="dia" style="left:582px;top:1984px">◀▶</div>
<div class="ct" style="top:1965px">近年来我国移动通信基站数量、工业机器人密度大</div>
<div class="ct" style="top:1997px">幅提升</div>
<div class="src" style="top:2433px">资料来源：Wind，华泰研究</div>

<div class="t j" style="top:2476px">过早过快去工业化往往使得失业率上升、经济增长放</div>
<div class="t j" style="top:2514px">缓，陷入“中等收入陷阱”，而维持制造业比重是跨越</div>
<div class="t" style="top:2552px">“中等收入陷阱”的关键因素之一。</div>

<div class="dia" style="left:60px;top:2629px">◀▶</div><div class="dia" style="left:582px;top:2629px">◀▶</div>
<div class="ct" style="top:2610px">我国在高质量发展的关键时期维持了制造业比重相</div>
<div class="ct" style="top:2641px">对稳定</div>
<div class="src" style="top:3093px">资料来源：Wind，华泰研究</div>

<div class="pill" style="top:3130px">创新环境</div>
<div class="t j" style="top:3209px">近年来我国重视科技行业政策支持和人才储备，创新能</div>
<div class="t" style="top:3247px">力显著增强。</div>

<div class="dia" style="left:60px;top:3325px">◀▶</div><div class="dia" style="left:582px;top:3325px">◀▶</div>
<div class="ct" style="top:3304px">我国已培育六批共15773家专精特新“小巨人”企</div>
<div class="ct" style="top:3336px">业</div>
<div class="src" style="top:3767px">资料来源：Wind，华泰研究</div>

<div class="dia" style="left:60px;top:3829px">◀▶</div><div class="dia" style="left:582px;top:3829px">◀▶</div>
<div class="ct" style="top:3808px">前十批vs第十批国家新型工业化产业示范基地布局</div>
<div class="ct" style="top:3838px">方向</div>
<div class="src" style="top:4276px">资料来源：Wind，华泰研究</div>

<div class="t j" style="top:4318px">中国从“人口红利”转向“工程师红利”，高校毕业生</div>
<div class="t" style="top:4356px">及科技人才数量持续增长。</div>
</body></html>
